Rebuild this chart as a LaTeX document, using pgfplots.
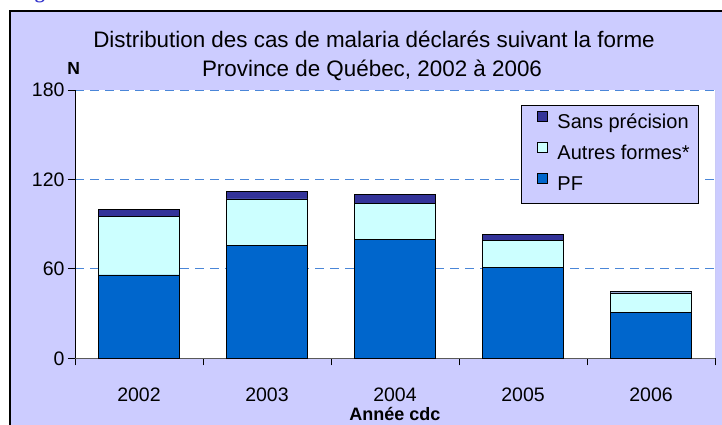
\documentclass[border=0pt]{standalone}
\usepackage{pgfplots}
\pgfplotsset{compat=1.18}
\usepackage{fontspec}
\setmainfont{Liberation Sans}
\newfontfamily\seriffont{Liberation Serif}
\definecolor{bgframe}{HTML}{CCCCFF}
\definecolor{pf}{HTML}{0066CC}
\definecolor{autres}{HTML}{CCFFFF}
\definecolor{sans}{HTML}{333399}
\definecolor{gridc}{HTML}{4A86D8}
\definecolor{figblue}{HTML}{3333CC}
\begin{document}
\begin{tikzpicture}[x=1pt,y=1pt]
\useasboundingbox (0,0) rectangle (722,424);
\node[anchor=base west, inner sep=0, text=figblue, font=\seriffont\bfseries\fontsize{20}{24}\selectfont] at (17,425.5) {Figure};
\filldraw[fill=bgframe, draw=black, line width=1.5pt] (10,413) rectangle (740,-20);
\begin{axis}[
  at={(75pt,65.7pt)}, anchor=south west, scale only axis,
  width=640pt, height=268.3pt,
  ybar stacked, bar width=0.63,
  xmin=-0.5, xmax=4.5, ymin=0, ymax=180,
  xtick={0,...,4}, xticklabels={2002,2003,2004,2005,2006},
  minor xtick={-0.5,0.5,...,4.5},
  ytick={0,60,120,180},
  axis x line=bottom, axis y line=left,
  x axis line style={-, draw=gray!70!black, line width=1pt},
  y axis line style={-, draw=black, line width=0.8pt},
  tick align=outside, major tick length=7pt, minor tick length=7pt,
  major x tick style={draw=none},
  minor x tick style={draw=black, line width=0.8pt},
  ytick style={draw=black, line width=0.8pt},
  ymajorgrids, major grid style={dash pattern=on 9pt off 6pt, gridc, line width=1pt},
  axis background/.style={fill=white},
  /pgf/number format/assume math mode=true,
  ticklabel style={font=\fontsize{19.5}{22}\selectfont},
  xticklabel style={anchor=base, yshift=-36pt},
  xlabel={Année cdc},
  xlabel style={at={(axis description cs:0.5,0)}, anchor=base, yshift=-62pt, font=\bfseries\fontsize{18}{21}\selectfont},
  legend image code/.code={\path[draw=none, fill=none] (0pt,0pt) -- (27pt,0pt); \draw[#1, draw=black] (13pt,2.5pt) rectangle (23pt,12.5pt);},
  reverse legend,
  legend cell align=left,
  legend style={at={(0.697,0.944)}, anchor=north west, fill=bgframe, draw=black, line width=0.8pt,
    font=\fontsize{20}{24}\selectfont, row sep=1pt, inner xsep=3pt, inner ysep=3pt,
    nodes={inner sep=6pt, text height=14pt, text depth=4pt}},
]
\addplot[fill=pf, draw=black] coordinates {(0,56) (1,76) (2,80) (3,61) (4,31)};
\addlegendentry{PF}
\addplot[fill=autres, draw=black] coordinates {(0,39) (1,31) (2,24) (3,18) (4,13)};
\addlegendentry{Autres formes*}
\addplot[fill=sans, draw=black] coordinates {(0,5) (1,5) (2,6) (3,4) (4,1)};
\addlegendentry{Sans précision}
\draw[gray!50] (rel axis cs:1,0) -- (rel axis cs:1,1);
\end{axis}
\node[anchor=base, font=\fontsize{22.4}{26}\selectfont] at (374,376.3) {Distribution des cas de malaria déclarés suivant la forme};
\node[anchor=base, font=\fontsize{22.4}{26}\selectfont] at (372,348) {Province de Québec, 2002 à 2006};
\node[anchor=base, font=\bfseries\fontsize{17.5}{20}\selectfont] at (73.7,349) {N};
\end{tikzpicture}
\end{document}
